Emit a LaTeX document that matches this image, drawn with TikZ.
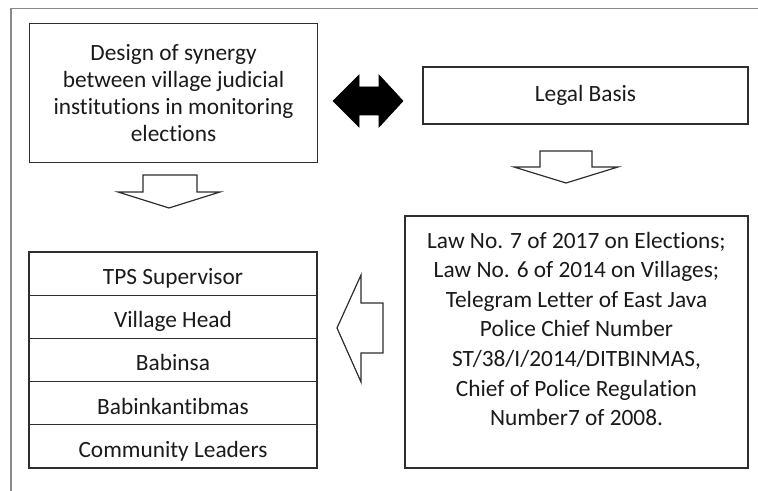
\documentclass[tikz,border=0pt]{standalone}
\usepackage{fontspec}
\setmainfont{Carlito}[Ligatures=NoCommon]
\usepackage{xcolor}
\usepackage{tikz}
\usetikzlibrary{positioning}

\definecolor{framegray}{HTML}{8A8A8A}
\definecolor{boxline}{HTML}{2E2E2E}
\definecolor{txt}{HTML}{1A1A1A}

\tikzset{
  box/.style={draw=boxline, line width=0.9pt, align=center, inner sep=0pt,
    outer sep=0pt, text=txt, font=\fontsize{17.5}{20.25}\selectfont},
  rowbox/.style={box, minimum width=216pt, minimum height=32.4pt,
    text height=16.5pt, text depth=0pt},
  hollowarrow/.style={draw=boxline, line width=0.9pt, fill=white, line join=miter},
  solidarrow/.style={fill=black, draw=black, line width=0.5pt}
}

\begin{document}
\begin{tikzpicture}[x=0.75pt, y=-0.75pt]
\useasboundingbox (0,0) rectangle (758,491);
% frame
\draw[framegray, line width=1.1pt] (11,491) -- (11,8.5) -- (758,8.5);

\begin{scope}
    \node[box, minimum width=216pt, minimum height=104pt] (design) at (173.5,93)
        {Design of synergy\\ between village judicial\\ institutions in monitoring\\ elections};
    \node[box, minimum width=243.75pt, minimum height=42.75pt] (legal) at (585.5,95.5) {Legal Basis};
    \node[box, minimum width=257.25pt, minimum height=189pt] (law) at (576.5,342) {};
    \node[box, draw=none, anchor=north, font=\fontsize{17.5}{22.2}\selectfont]
        (lawtext) at ([yshift=-12pt]law.north)
        {Law No. 7 of 2017 on Elections;\\ Law No. 6 of 2014 on Villages;\\
         Telegram Letter of East Java\\ Police Chief Number\\ ST/38/I/2014/DITBINMAS,\\
         Chief of Police Regulation\\ Number7 of 2008.};
\end{scope}

% list of actors
\node[rowbox] (tps) at (173,273.6) {TPS Supervisor};
\node[rowbox, below=0pt of tps] (head) {Village Head};
\node[rowbox, below=0pt of head] (babinsa) {Babinsa};
\node[rowbox, below=0pt of babinsa] (kamtib) {Babinkantibmas};
\node[rowbox, below=0pt of kamtib] (leaders) {Community Leaders};

% block arrows
\coordinate (downA) at (170,175);
\coordinate (downB) at (566,151);
\coordinate (leftC) at (337,328);
\coordinate (twoway) at (368,101);

\draw[hollowarrow] (downA) ++(-27,0) -- ++(54,0) -- ++(0,17) -- ++(23,0)
    -- ++(-51,16) -- ++(-51,-16) -- ++(25,0) -- cycle;
\draw[hollowarrow] (downB) ++(-26,0) -- ++(52,0) -- ++(0,16) -- ++(26,0)
    -- ++(-52,16) -- ++(-52,-16) -- ++(26,0) -- cycle;
\draw[hollowarrow] (leftC) -- ++(24,-53) -- ++(0,28) -- ++(22,0) -- ++(0,50)
    -- ++(-22,0) -- ++(0,29) -- cycle;
\fill[solidarrow] (twoway) ++(-35,0) -- ++(26,-26) -- ++(0,12) -- ++(20,0) -- ++(0,-12)
    -- ++(24,26) -- ++(-24,26) -- ++(0,-12) -- ++(-20,0) -- ++(0,12) -- cycle;
\end{tikzpicture}
\end{document}
